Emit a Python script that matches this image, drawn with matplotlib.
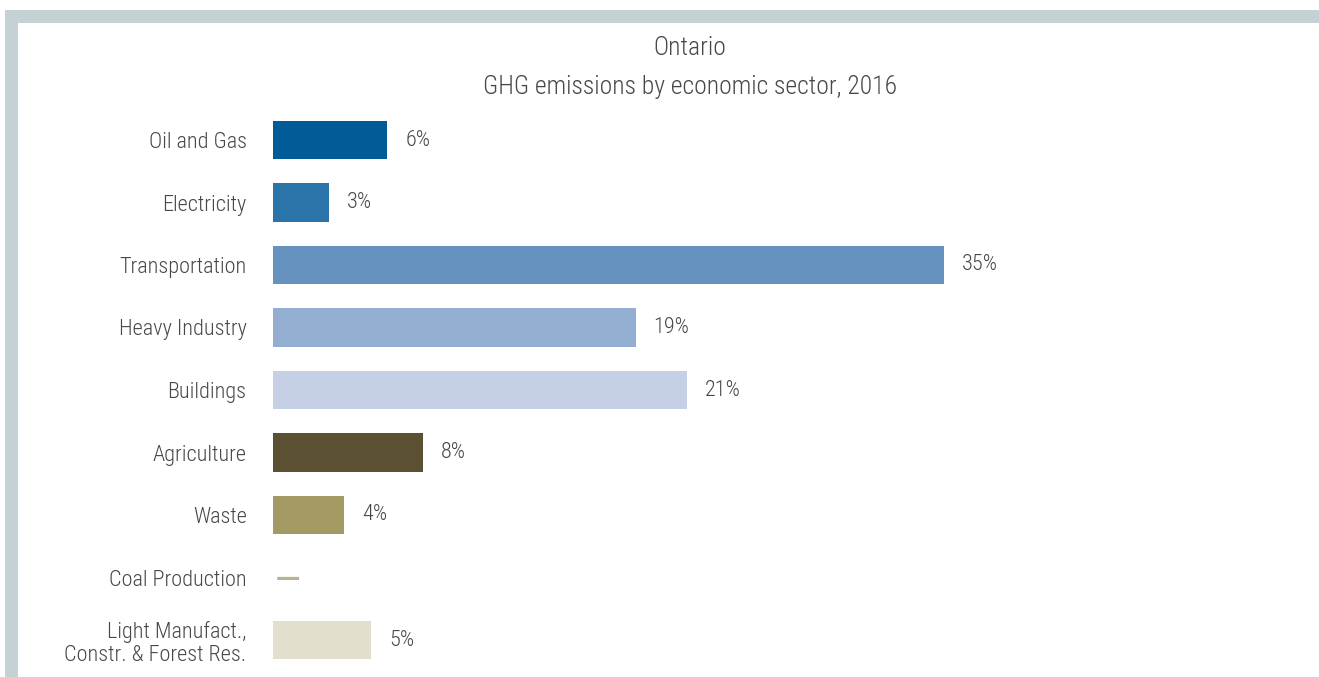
import matplotlib
matplotlib.use("Agg")
import matplotlib.pyplot as plt
from matplotlib.patches import Rectangle
from matplotlib import font_manager

categories = ["Oil and Gas", "Electricity", "Transportation", "Heavy Industry",
              "Buildings", "Agriculture", "Waste", "Coal Production",
              "Light Manufact.,\nConstr. & Forest Res."]
values = [5.95, 2.9, 35.0, 18.9, 21.6, 7.8, 3.7, 0.0, 5.1]
labels = ["6%", "3%", "35%", "19%", "21%", "8%", "4%", "—", "5%"]
colors = ["#005b96", "#2b74aa", "#6692bf", "#93aed1", "#c5d0e6",
          "#5b5132", "#a29a62", "#c9c4a3", "#e2dfcd"]

# pick the narrowest available sans font
names = {f.name for f in font_manager.fontManager.ttflist}
stretch = "normal"
family = None
for cand in ["Liberation Sans Narrow", "Roboto Condensed", "Open Sans Condensed",
             "Noto Sans Condensed", "DejaVu Sans Condensed"]:
    if cand in names:
        family = cand
        break
if family is None:
    cond = [f for f in font_manager.fontManager.ttflist
            if f.name == "DejaVu Sans" and f.stretch == "condensed"]
    if cond:
        family, stretch = "DejaVu Sans", "condensed"
    else:
        family = "Roboto" if "Roboto" in names else "DejaVu Sans"
plt.rcParams['font.family'] = [family, 'DejaVu Sans']
plt.rcParams['font.stretch'] = stretch
plt.rcParams['font.weight'] = 'light'

W, H = 1319, 677
fig = plt.figure(figsize=(W / 100, H / 100), dpi=100)
fig.patch.set_facecolor("white")
renderer = fig.canvas.get_renderer()


def fit_size(s, target_px):
    t = fig.text(0, 0, s, fontsize=10, fontstretch=stretch)
    w = t.get_window_extent(renderer).width
    t.remove()
    return 10 * target_px / w


lab_fs = fit_size("Oil and Gas", 98)
val_fs = fit_size("35%", 36)
title_fs = fit_size("GHG emissions by economic sector, 2016", 416)

frame_c = "#c4d2d5"
fig.add_artist(Rectangle((5 / W, 1 - 23 / H), 1 - 5 / W, 13 / H,
                         transform=fig.transFigure, color=frame_c, lw=0))
fig.add_artist(Rectangle((5 / W, 0), 13 / W, 1 - 10 / H,
                         transform=fig.transFigure, color=frame_c, lw=0))

left = 273 / W
right = 1232 / W
top_px, bot_px = 108.75, 671.25
ax = fig.add_axes([left, 1 - bot_px / H, right - left, (bot_px - top_px) / H])
ax.set_facecolor("none")

y = list(range(len(categories)))
ax.barh(y, values, height=0.61, color=colors, edgecolor="none")
ax.set_xlim(0, 50)
ax.set_ylim(len(categories) - 0.5, -0.5)

txt_c = "#484848"
for i, (v, lab) in enumerate(zip(values, labels)):
    if v == 0:
        ax.text(0.15, i, lab, va="center", ha="left", fontsize=lab_fs * 1.1,
                color="#b8b291", fontstretch="normal", fontweight="bold",
                family="DejaVu Sans")
    else:
        ax.annotate(lab, (v, i), xytext=(13, 0), textcoords="offset points",
                    va="center", ha="left", fontsize=val_fs, color=txt_c)

ax.set_yticks(y)
ax.set_yticklabels(categories, fontsize=lab_fs, color=txt_c, linespacing=1.15)
ax.tick_params(axis="y", length=0, pad=19)
ax.set_xticks([])
for s in ax.spines.values():
    s.set_visible(False)

fig.text(690 / W, 1 - 48 / H, "Ontario", ha="center", va="center",
         fontsize=title_fs, color=txt_c)
fig.text(690 / W, 1 - 87 / H, "GHG emissions by economic sector, 2016",
         ha="center", va="center", fontsize=title_fs, color=txt_c)

fig.savefig("out.png", dpi=100, facecolor="white")
